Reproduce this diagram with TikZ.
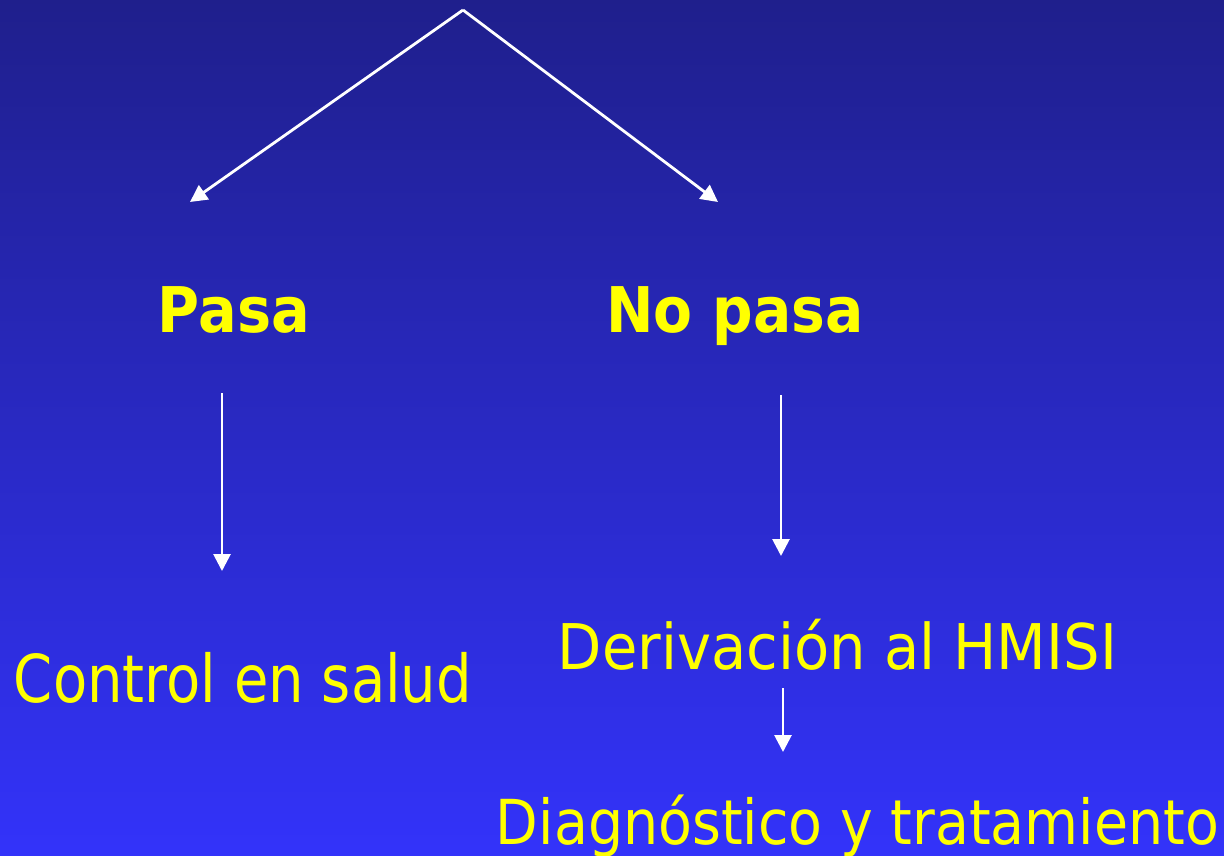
\documentclass[tikz,border=0pt]{standalone}
\usepackage{fontspec}
\setmainfont{DejaVu Sans}
\usepackage{graphicx}
\usetikzlibrary{arrows.meta}
\definecolor{bgtop}{RGB}{31,31,140}
\definecolor{bgbot}{RGB}{51,51,250}
\definecolor{txt}{RGB}{255,255,0}
\tikzset{
  lbl/.style={text=txt, inner sep=0pt, outer sep=0pt, anchor=base},
  boldlbl/.style={lbl, font=\bfseries\fontsize{63}{70}\selectfont},
  arr/.style={draw=white, line width=2.8pt, -{Triangle[length=17pt,width=17pt]}},
}
\begin{document}
\begin{tikzpicture}[x=1pt,y=-1pt]
\shade[top color=bgtop,bottom color=bgbot] (0,0) rectangle (1224,856);
\useasboundingbox (0,0) rectangle (1224,856);

\node[boldlbl] (pasa) at (234,332) {\resizebox{152pt}{\height}{Pasa}};
\node[boldlbl] (nopasa) at (735,332) {\resizebox{257pt}{\height}{No pasa}};
\node[lbl, font=\fontsize{66}{72}\selectfont] (control) at (243,702) {\resizebox{458pt}{\height}{Control en salud}};
\node[lbl, font=\fontsize{63}{70}\selectfont] (deriv) at (837.5,669) {\resizebox{559pt}{\height}{Derivación al HMISI}};
\node[lbl, font=\fontsize{62}{70}\selectfont] (diag) at (857.5,844) {\resizebox{723pt}{\height}{Diagnóstico y tratamiento}};

\coordinate (apex) at (463,10);
\coordinate (lt) at (190,202);
\coordinate (rt) at (718,202);
\coordinate (p1) at (222,393);
\coordinate (p2) at (222,571);
\coordinate (n1) at (781,395);
\coordinate (n2) at (781,556);
\coordinate (d1) at (783,688);
\coordinate (d2) at (783,752);

\draw[arr] (apex) -- (lt);
\draw[arr] (apex) -- (rt);
\draw[arr] (p1) -- (p2);
\draw[arr] (n1) -- (n2);
\draw[arr] (d1) -- (d2);
\end{tikzpicture}
\end{document}
